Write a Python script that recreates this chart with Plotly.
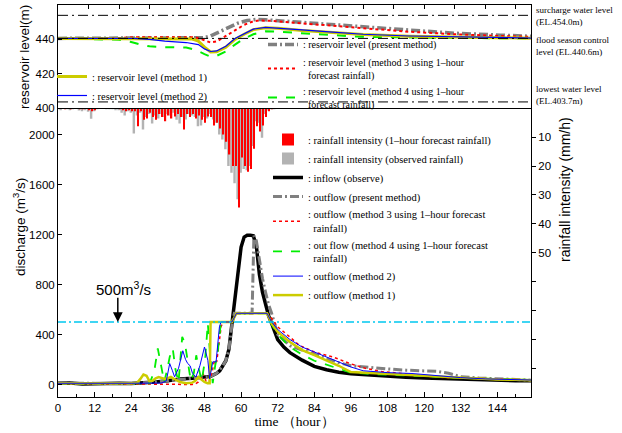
import plotly.graph_objects as go

# ---------------- data ----------------
rain_hours = list(range(72))
rain_observed = [0.3, 0.5, 0, 0.3, 0.6, 0.3, 0, 0.8, 1.0, 0.4, 1.2, 3.6, 1.0, 0.3, 0, 0, 0.2, 0.3, 0.2, 0.5,
                 0.4, 1.5, 2.5, 1.0, 1.5, 8.7, 2.5, 1.5, 7.3, 3.0, 2.0, 5.3, 2.5, 3.5, 2.0, 3.0, 2.0, 2.5, 1.5, 4.0,
                 5.3, 3.0, 3.9, 2.0, 2.5, 3.0, 6.2, 6.0, 3.0, 3.5, 2.0, 3.9, 5.0, 9.1, 10.8, 14.2, 20.0, 22.3, 26.0, 31.5,
                 22.3, 21.0, 21.5, 20.0, 13.1, 4.5, 5.0, 10.2, 2.0, 0.8, 0.3, 0.2]
rain_forecast = [0, 0, 0.2, 0, 0.3, 0, 0, 0.2, 0.3, 0, 0.5, 1.0, 0.5, 0, 0, 0, 0, 0, 0, 0,
                 0.3, 0.5, 1.0, 0.5, 1.0, 1.0, 6.2, 1.0, 4.0, 3.5, 1.5, 3.0, 4.0, 2.0, 3.0, 4.5, 2.5, 3.5, 2.8, 2.0,
                 3.0, 7.3, 2.0, 3.0, 2.0, 3.5, 2.5, 4.0, 5.0, 2.8, 3.0, 6.0, 5.0, 7.0, 9.1, 11.6, 16.0, 20.0, 20.0, 34.4,
                 17.0, 20.0, 22.0, 21.0, 14.0, 6.2, 8.0, 6.0, 3.0, 1.0, 0.3, 0]

t_inflow = [0, 4, 8, 12, 16, 20, 24, 28, 32, 36, 40, 44, 48, 50, 52, 53, 54, 55, 56, 57, 58, 59, 60, 61, 62, 63,
            64, 65, 66, 67, 68, 69, 70, 72, 74, 76, 80, 84, 88, 92, 96, 102, 108, 114, 120, 126, 132, 138, 144, 150, 155]
q_inflow = [10, 12, 5, 8, 6, 10, 8, 12, 20, 30, 45, 50, 60, 65, 90, 110, 150, 190, 280, 480, 680, 900, 1100, 1180, 1195, 1195,
            1190, 1110, 880, 740, 630, 550, 490, 360, 300, 255, 195, 145, 118, 98, 86, 75, 66, 58, 52, 47, 42, 38, 34, 31, 30]

t_present = [0, 8, 16, 24, 32, 36, 40, 44, 48, 50, 52, 54, 55, 56, 57, 57.8, 63.6, 64.2, 65, 66, 67, 68, 69, 70,
             72, 76, 80, 84, 88, 92, 96, 100, 108, 114, 120, 124, 128, 132, 138, 144, 150, 155]
q_present = [10, 8, 8, 8, 20, 30, 45, 50, 60, 65, 90, 150, 190, 280, 480, 570, 570, 1190, 1150, 1000, 850, 740, 640, 570,
             400, 310, 275, 240, 205, 175, 150, 140, 125, 115, 110, 105, 90, 62, 52, 45, 40, 35]

t_m1 = [0, 8, 16, 24, 26, 27, 28, 29, 30, 31, 32, 33, 34, 35, 36, 37, 38, 40, 42, 44, 45, 46, 47, 48, 49, 49.7,
        50, 57, 58.5, 68.5, 70, 72, 76, 80, 84, 88, 92, 96, 102, 108, 114, 120, 126, 132, 138, 144, 150, 155]
q_m1 = [10, 8, 10, 10, 15, 45, 80, 70, 25, 30, 50, 60, 55, 45, 50, 60, 45, 20, 10, 15, 30, 60, 40, 20, 10, 10,
        500, 500, 570, 570, 490, 420, 340, 275, 235, 195, 150, 100, 92, 88, 78, 68, 60, 50, 45, 40, 38, 35]

t_m2 = [0, 8, 16, 24, 30, 34, 35.5, 36.6, 37.5, 38.2, 39.5, 40.9, 41.8, 42.5, 43.3, 44.1, 45.2, 46.5, 48, 49.1, 49.7,
        50.7, 51.8, 52.9, 53.4, 57, 58.5, 68.5, 70, 72, 76, 80, 84, 88, 92, 96, 100, 108, 116, 124, 132, 140, 148, 155]
q_m2 = [10, 8, 10, 10, 10, 12, 30, 168, 110, 61, 130, 270, 200, 168, 150, 88, 61, 150, 300, 194, 45,
        181, 181, 461, 500, 500, 570, 570, 500, 440, 360, 300, 260, 220, 180, 140, 110, 95, 88, 70, 55, 45, 40, 36]

t_m3 = [0, 8, 16, 24, 32, 40, 44, 45, 46, 47, 47.5, 48.5, 49.5, 50.5, 51.3, 52, 53, 53.5, 54.5, 57, 58.5, 68.5,
        70, 72, 76, 79, 84, 90, 96, 101, 106, 112, 118, 123, 128, 134, 140, 146, 155]
q_m3 = [10, 8, 10, 5, 0, 0, 0, 5, 20, 60, 88, 30, 20, 100, 194, 180, 400, 470, 500, 500, 570, 570,
        530, 461, 380, 314, 260, 221, 165, 128, 105, 88, 75, 61, 55, 50, 45, 40, 36]

t_m4 = [0, 8, 16, 24, 30, 31.5, 32.7, 33.8, 34.8, 35.8, 36.6, 37.6, 38.5, 39.5, 40.7, 41.6, 42.5, 43.5, 44.5, 45.3,
        46.2, 47.1, 48.2, 49.1, 49.8, 50.7, 51.5, 52.3, 53.4, 57, 58.5, 68.5, 70, 72, 76, 80, 84, 90, 96, 102, 108,
        116, 124, 132, 140, 148, 155]
q_m4 = [10, 8, 10, 10, 10, 100, 288, 150, 20, 120, 220, 288, 120, 20, 381, 330, 180, 30, 90, 234,
        120, 30, 200, 488, 250, 10, 150, 250, 500, 500, 570, 570, 480, 400, 300, 240, 190, 140, 95, 85, 80,
        72, 62, 52, 45, 40, 36]

t_lv_present = [0, 45, 48, 50, 53, 56, 59, 62, 65, 68, 75, 85, 100, 115, 130, 145, 155]
lv_present = [440.6, 440.6, 441.0, 442.0, 444.5, 447.0, 449.5, 451.0, 451.6, 451.4, 450.5, 449.0, 447.0, 445.2, 443.6, 442.5, 441.8]

t_lv_m3 = [0, 20, 25, 40, 45, 48, 50, 52, 55, 58, 61, 64, 66, 70, 80, 90, 100, 115, 130, 145, 155]
lv_m3 = [440.6, 440.8, 441.3, 441.5, 441.2, 439.5, 438.2, 438.8, 442.0, 445.5, 448.5, 450.5, 451.0, 450.8, 449.5,
         448.0, 446.5, 444.5, 443.0, 442.0, 441.5]

t_lv_m4 = [0, 15, 20, 24, 27, 30, 35, 42, 45, 48, 50, 52, 55, 58, 61, 64, 68, 72, 80, 90, 100, 120, 155]
lv_m4 = [440.6, 440.3, 439.8, 438.5, 437.0, 436.0, 435.5, 435.3, 434.0, 431.5, 430.0, 430.5, 433.0, 437.0, 440.5,
         443.0, 444.7, 444.5, 443.5, 442.5, 441.5, 441.0, 440.6]

t_lv_m2 = [0, 25, 30, 35, 42, 46, 48, 50, 52, 55, 58, 61, 64, 68, 72, 80, 90, 100, 115, 130, 155]
lv_m2 = [440.6, 440.6, 440.0, 439.0, 438.2, 437.0, 434.5, 433.0, 433.3, 436.0, 440.5, 443.5, 446.0, 447.0, 446.6,
         445.5, 444.3, 443.0, 442.0, 441.5, 440.8]

t_lv_m1 = [0, 35, 44, 46, 48, 50, 52, 55, 58, 61, 64, 68, 72, 80, 90, 100, 115, 130, 155]
lv_m1 = [440.6, 440.4, 440.2, 439.0, 435.5, 432.7, 432.8, 435.5, 440.0, 443.0, 445.7, 446.8, 446.5, 445.2, 444.0,
         442.8, 441.8, 441.3, 440.7]

level_marks = [454.0, 440.6, 403.7]
level_labels = ["surcharge water level<br>(EL.454.0m)", "flood season control<br>level (EL.440.6m)",
                "lowest water level<br>(EL.403.7m)"]
threshold_q = 500

x_ticks = list(range(0, 145, 12))
q_ticks = [0, 400, 800, 1200, 1600, 2000]
level_ticks = [400, 420, 440, 460]
rain_ticks = [10, 20, 30, 40, 50, 60, 70, 80, 90]
rain_ticktext = ["10", "20", "30", "40", "50", "", "", "", ""]

for a, b in [(t_inflow, q_inflow), (t_present, q_present), (t_m1, q_m1), (t_m2, q_m2), (t_m3, q_m3), (t_m4, q_m4),
             (t_lv_present, lv_present), (t_lv_m3, lv_m3), (t_lv_m4, lv_m4), (t_lv_m2, lv_m2), (t_lv_m1, lv_m1),
             (rain_hours, rain_observed), (rain_hours, rain_forecast)]:
    assert len(a) == len(b), (len(a), len(b))

# ---------------- layout helpers ----------------
L, R, T, B = 58, 91, 5, 36
W, H = 622, 433
PW, PH = W - L - R, H - T - B


def pxx(px):
    return (px - L) / PW


def pxy(py):
    return 1 - (py - T) / PH


SPLIT = pxy(108.3)

serif = "Liberation Serif"
sans = "Liberation Sans"
GRAY = "#808080"
YEL = "#cccc00"
GRN = "#00ee00"
DASHDOT = "9px,3px,2px,3px"

fig = go.Figure()

# rainfall bars (right reversed axis)
fig.add_trace(go.Bar(x=rain_hours, y=rain_observed, xaxis="x", yaxis="y3", marker=dict(color="#b3b3b3", line_width=0),
                     width=0.8, offset=-0.55, name=": rainfall intensity (observed rainfall)",
                     legend="legend3", legendrank=2))
fig.add_trace(go.Bar(x=rain_hours, y=rain_forecast, xaxis="x", yaxis="y3", marker=dict(color="#ff0000", line_width=0),
                     width=0.42, offset=0.02, name=": rainfall intensity (1–hour forecast rainfall)",
                     legend="legend3", legendrank=1))

# discharge lines
fig.add_trace(go.Scatter(x=t_inflow, y=q_inflow, mode="lines", line=dict(color="black", width=3.5),
                         name=": inflow (observe)", legend="legend3", legendrank=3))
fig.add_trace(go.Scatter(x=t_present, y=q_present, mode="lines", line=dict(color=GRAY, width=3, dash=DASHDOT),
                         name=": outflow (present method)", legend="legend3", legendrank=4))
fig.add_trace(go.Scatter(x=t_m3, y=q_m3, mode="lines", line=dict(color="#ff0000", width=1.5, dash="dot"),
                         name=": outflow (method 3 using 1–hour forecast<br>\u00a0\u00a0rainfall)", legend="legend3", legendrank=5))
fig.add_trace(go.Scatter(x=t_m4, y=q_m4, mode="lines", line=dict(color=GRN, width=1.8, dash="dash"),
                         name=": out flow (method 4 using 1–hour forecast<br>\u00a0\u00a0rainfall)", legend="legend3", legendrank=6))
fig.add_trace(go.Scatter(x=t_m1, y=q_m1, mode="lines", line=dict(color=YEL, width=2.5),
                         name=": outflow (method 1)", legend="legend3", legendrank=8))
fig.add_trace(go.Scatter(x=t_m2, y=q_m2, mode="lines", line=dict(color="#0000ff", width=1),
                         name=": outflow (method 2)", legend="legend3", legendrank=7))

# reservoir levels (top panel)
fig.add_trace(go.Scatter(x=t_lv_present, y=lv_present, xaxis="x2", yaxis="y2", mode="lines",
                         line=dict(color=GRAY, width=3.5, dash=DASHDOT),
                         name=": reservoir level (present method)", legend="legend2", legendrank=1))
fig.add_trace(go.Scatter(x=t_lv_m3, y=lv_m3, xaxis="x2", yaxis="y2", mode="lines",
                         line=dict(color="#ff0000", width=2, dash="dot"),
                         name=": reservoir level (method 3 using 1–hour<br>\u00a0\u00a0forecast rainfall)",
                         legend="legend2", legendrank=2))
fig.add_trace(go.Scatter(x=t_lv_m4, y=lv_m4, xaxis="x2", yaxis="y2", mode="lines",
                         line=dict(color=GRN, width=2, dash="dash"),
                         name=": reservoir level (method 4 using 1–hour<br>\u00a0\u00a0forecast rainfall)",
                         legend="legend2", legendrank=3))
fig.add_trace(go.Scatter(x=t_lv_m1, y=lv_m1, xaxis="x2", yaxis="y2", mode="lines",
                         line=dict(color=YEL, width=3),
                         name=": reservoir level (method 1)", legend="legend", legendrank=1))
fig.add_trace(go.Scatter(x=t_lv_m2, y=lv_m2, xaxis="x2", yaxis="y2", mode="lines",
                         line=dict(color="#0000ff", width=1.2),
                         name=": reservoir level (method 2)", legend="legend", legendrank=2))

shapes = []
for lv in level_marks:
    shapes.append(dict(type="line", xref="x2 domain", yref="y2", x0=0, x1=1, y0=lv, y1=lv,
                       line=dict(color="black", width=1, dash="10px,4px,2px,4px")))
shapes.append(dict(type="line", xref="x domain", yref="y", x0=0, x1=1, y0=threshold_q, y1=threshold_q,
                   line=dict(color="#00c8f0", width=1.5, dash="8px,3px,2px,3px")))

annotations = []
label_py = [[11, 22], [40, 52], [90, 100]]
for txt, (a, b) in zip(level_labels, label_py):
    annotations.append(dict(xref="paper", yref="paper", x=pxx(534), y=pxy((a + b) / 2), xanchor="left",
                            yanchor="middle", text=txt, showarrow=False, align="left",
                            font=dict(family=serif, size=9, color="black")))
annotations.append(dict(xref="paper", yref="paper", x=pxx(565), y=pxy(190), text="rainfall intensity (mm/h)",
                        xanchor="center", yanchor="middle",
                        textangle=-90, showarrow=False, font=dict(family=sans, size=14, color="black")))
annotations.append(dict(xref="paper", yref="paper", x=pxx(24), y=pxy(57), text="reservoir level(m)",
                        xanchor="center", yanchor="middle",
                        textangle=-90, showarrow=False, font=dict(family=sans, size=13.5, color="black")))
annotations.append(dict(xref="paper", yref="paper", x=pxx(19), y=pxy(227), text="discharge (m<sup>3</sup>/s)",
                        xanchor="center", yanchor="middle",
                        textangle=-90, showarrow=False, font=dict(family=sans, size=13.5, color="black")))
annotations.append(dict(xref="x", yref="y", x=19.6, y=threshold_q, ax=19.6, ay=706, axref="x", ayref="y",
                        text="", showarrow=True, arrowhead=2, arrowsize=1.3, arrowwidth=1.5, arrowcolor="black",
                        standoff=0))
annotations.append(dict(xref="x", yref="y", x=21.4, y=765, text="500m<sup>3</sup>/s", showarrow=False,
                        font=dict(family=sans, size=15, color="black")))

axis_common = dict(showline=True, linecolor="black", linewidth=1, showgrid=False, zeroline=False,
                   tickfont=dict(family=sans, size=11.5, color="black"), tickcolor="black", automargin=False)

leg_common = dict(bgcolor="rgba(0,0,0,0)", font=dict(family=serif, size=10.5, color="black"),
                  xanchor="left", yanchor="top", itemwidth=30, tracegroupgap=0)

fig.update_layout(
    width=W, height=H, margin=dict(l=L, r=R, t=T, b=B, autoexpand=False), paper_bgcolor="white",
    plot_bgcolor="white", barmode="overlay", showlegend=True,
    xaxis=dict(domain=[0, 1], range=[0, 155], anchor="y", tickvals=x_ticks, ticks="inside", ticklen=5,
               minor=dict(dtick=6, tick0=0, ticks="inside", ticklen=3, tickcolor="black"),
               title=dict(text="time （hour）", font=dict(family=serif, size=13.5, color="black"), standoff=2),
               **axis_common),
    yaxis=dict(domain=[0, SPLIT], range=[-100, 2210], anchor="x", tickvals=q_ticks, ticks="inside", ticklen=4,
               **axis_common),
    yaxis3=dict(overlaying="y", side="right", anchor="x", range=[100, 0], tickvals=rain_ticks,
                ticktext=rain_ticktext, ticks="outside", ticklen=4, **axis_common),
    xaxis2=dict(domain=[0, 1], range=[0, 155], anchor="y2", side="top", dtick=10, tick0=0, ticks="inside",
                ticklen=4, showticklabels=False, mirror=True, **axis_common),
    yaxis2=dict(domain=[SPLIT, 1], range=[400, 460], anchor="x2", tickvals=level_ticks, ticks="inside",
                ticklen=4, mirror=True, **axis_common),
    legend=dict(x=pxx(52), y=pxy(62), **leg_common),
    legend2=dict(x=pxx(263), y=pxy(30), **{**leg_common, "font": dict(family=serif, size=10, color="black")}),
    legend3=dict(x=pxx(268), y=pxy(125), **leg_common),
    shapes=shapes, annotations=annotations,
)

fig.write_html("out.html", config={"displayModeBar": False},
               post_script="document.body.style.margin='0';document.body.style.padding='0';")
